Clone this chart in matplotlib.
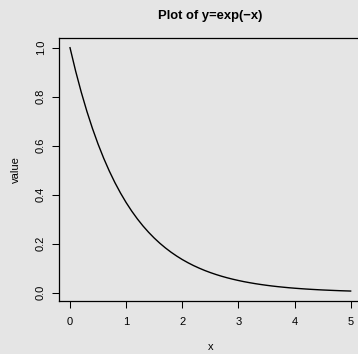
import matplotlib
matplotlib.use("Agg")
import matplotlib.pyplot as plt

# values
x = [0.0, 0.1, 0.2, 0.3, 0.4, 0.5, 0.6, 0.7, 0.8, 0.9,
     1.0, 1.1, 1.2, 1.3, 1.4, 1.5, 1.6, 1.7, 1.8, 1.9,
     2.0, 2.1, 2.2, 2.3, 2.4, 2.5, 2.6, 2.7, 2.8, 2.9,
     3.0, 3.1, 3.2, 3.3, 3.4, 3.5, 3.6, 3.7, 3.8, 3.9,
     4.0, 4.1, 4.2, 4.3, 4.4, 4.5, 4.6, 4.7, 4.8, 4.9, 5.0]
y = [1.0, 0.9048, 0.8187, 0.7408, 0.6703, 0.6065, 0.5488, 0.4966, 0.4493, 0.4066,
     0.3679, 0.3329, 0.3012, 0.2725, 0.2466, 0.2231, 0.2019, 0.1827, 0.1653, 0.1496,
     0.1353, 0.1225, 0.1108, 0.1003, 0.0907, 0.0821, 0.0743, 0.0672, 0.0608, 0.0550,
     0.0498, 0.0450, 0.0408, 0.0369, 0.0334, 0.0302, 0.0273, 0.0247, 0.0224, 0.0202,
     0.0183, 0.0166, 0.0150, 0.0136, 0.0123, 0.0111, 0.0101, 0.0091, 0.0082, 0.0074, 0.0067]

xticks = [0, 1, 2, 3, 4, 5]
yticks = [0.0, 0.2, 0.4, 0.6, 0.8, 1.0]

bg = "#E5E5E5"
plt.rcParams["font.family"] = ["Liberation Sans", "DejaVu Sans"]

fig = plt.figure(figsize=(3.58, 3.54), dpi=100, facecolor=bg)
ax = fig.add_axes([0.1642, 0.1503, 0.8466, 0.7424])
ax.set_facecolor(bg)

ax.plot(x, y, color="black", lw=1.0)

# R-style 4% padding
ax.set_xlim(-0.2, 5.2)
ax.set_ylim(-0.0331, 1.0397)

ax.set_xticks(xticks)
ax.set_xticklabels([str(t) for t in xticks])
ax.set_yticks(yticks)
ax.set_yticklabels(["%.1f" % t for t in yticks], rotation=90, va="center")

ax.tick_params(direction="out", length=4.8, width=0.75, labelsize=8, colors="black")
ax.tick_params(axis="x", pad=7)
ax.tick_params(axis="y", pad=4.5)
for s in ax.spines.values():
    s.set_linewidth(0.9)

ax.set_xlabel("x", fontsize=8, labelpad=11)
ax.set_ylabel("value", fontsize=8, labelpad=11)
ax.set_title("Plot of y=exp(\u2212x)", fontsize=9.4, fontweight="bold", pad=13.5)

fig.savefig("out.png", dpi=100, facecolor=bg)
